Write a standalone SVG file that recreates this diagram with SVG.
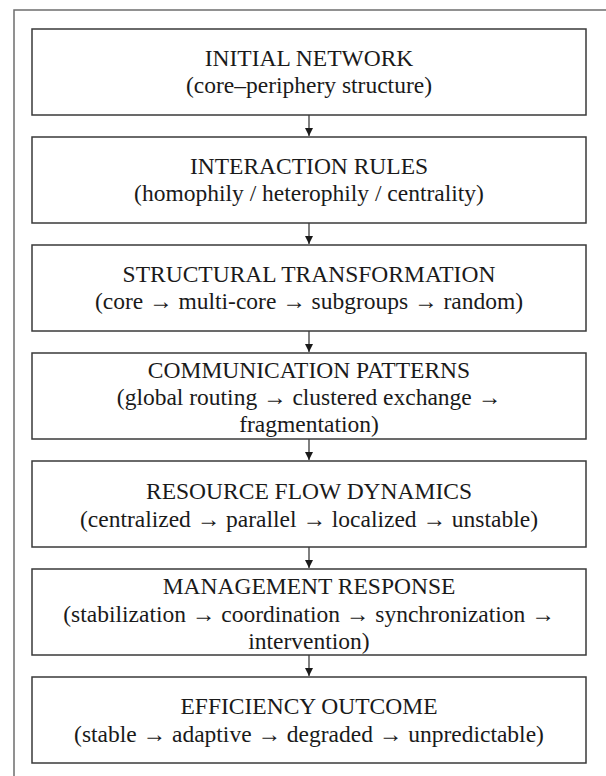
<svg xmlns="http://www.w3.org/2000/svg" width="606" height="776" viewBox="0 0 606 776">
  <style>
    .frame { fill: none; stroke: #6e6e6e; stroke-width: 1.5; }
    .box { fill: #ffffff; stroke: #3a3a3a; stroke-width: 1.5; }
    .t { font-family: "Liberation Serif", "Times New Roman", serif; font-size: 23.5px; fill: #1a1a1a; text-anchor: middle; }
    .edge { stroke: #2a2a2a; stroke-width: 1.2; fill: none; marker-end: url(#arrow); }
  </style>
  <defs>
    <marker id="arrow" viewBox="0 0 8 10" refX="8" refY="5" markerWidth="8" markerHeight="10" markerUnits="userSpaceOnUse" orient="auto">
      <path d="M0,1 L8,5 L0,9 Z" fill="#1a1a1a"/>
    </marker>
  </defs>

  <rect x="0" y="0" width="606" height="776" fill="#ffffff"/>
  <rect class="frame" x="14" y="10" width="610" height="790"/>

  <!-- connectors -->
  <g id="connectors">
    <line class="edge" x1="309" y1="115" x2="309" y2="136"/>
    <line class="edge" x1="309" y1="223" x2="309" y2="244"/>
    <line class="edge" x1="309" y1="331" x2="309" y2="352"/>
    <line class="edge" x1="309" y1="439" x2="309" y2="460"/>
    <line class="edge" x1="309" y1="547" x2="309" y2="568"/>
    <line class="edge" x1="309" y1="655" x2="309" y2="676"/>
  </g>

  <g id="initial-network">
    <rect class="box" x="32" y="29" width="554" height="86"/>
    <text class="t" x="309" y="66">INITIAL NETWORK</text>
    <text class="t" x="309" y="93">(core–periphery structure)</text>
  </g>

  <g id="interaction-rules">
    <rect class="box" x="32" y="137" width="554" height="86"/>
    <text class="t" x="309" y="174">INTERACTION RULES</text>
    <text class="t" x="309" y="201">(homophily / heterophily / centrality)</text>
  </g>

  <g id="structural-transformation">
    <rect class="box" x="32" y="245" width="554" height="86"/>
    <text class="t" x="309" y="282">STRUCTURAL TRANSFORMATION</text>
    <text class="t" x="309" y="309">(core → multi-core → subgroups → random)</text>
  </g>

  <g id="communication-patterns">
    <rect class="box" x="32" y="353" width="554" height="86"/>
    <text class="t" x="309" y="378">COMMUNICATION PATTERNS</text>
    <text class="t" x="309" y="405">(global routing → clustered exchange →</text>
    <text class="t" x="309" y="432">fragmentation)</text>
  </g>

  <g id="resource-flow">
    <rect class="box" x="32" y="461" width="554" height="86"/>
    <text class="t" x="309" y="499">RESOURCE FLOW DYNAMICS</text>
    <text class="t" x="309" y="527">(centralized → parallel → localized → unstable)</text>
  </g>

  <g id="management-response">
    <rect class="box" x="32" y="569" width="554" height="86"/>
    <text class="t" x="309" y="594">MANAGEMENT RESPONSE</text>
    <text class="t" x="309" y="622">(stabilization → coordination → synchronization →</text>
    <text class="t" x="309" y="649">intervention)</text>
  </g>

  <g id="efficiency-outcome">
    <rect class="box" x="32" y="677" width="554" height="86"/>
    <text class="t" x="309" y="714">EFFICIENCY OUTCOME</text>
    <text class="t" x="309" y="742">(stable → adaptive → degraded → unpredictable)</text>
  </g>
</svg>
